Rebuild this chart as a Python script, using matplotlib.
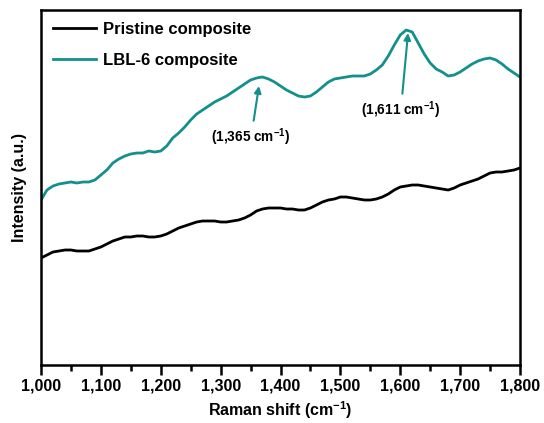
import numpy as np
import matplotlib.pyplot as plt
from matplotlib.ticker import MultipleLocator, FuncFormatter

# Raman shift (cm-1), 10 cm-1 steps
shift = np.arange(1000, 1801, 10)

# (arbitrary units)
pristine = [107, 110, 113, 114, 115, 115, 114, 114, 114, 116,
            118, 121, 124, 126, 128, 128, 129, 129, 128, 128,
            129, 131, 134, 137, 139, 141, 143, 144, 144, 144,
            143, 143, 144, 145, 147, 150, 154, 156, 157, 157,
            157, 156, 156, 155, 155, 157, 160, 163, 165, 166,
            168, 168, 167, 166, 165, 165, 166, 168, 171, 175,
            178, 179, 180, 180, 179, 178, 177, 176, 175, 177,
            180, 182, 184, 186, 189, 192, 193, 193, 194, 195,
            197]

lbl6 = [165, 175, 179, 181, 182, 183, 182, 183, 183, 185,
        190, 195, 202, 206, 209, 211, 212, 212, 214, 213,
        214, 219, 227, 232, 238, 245, 251, 255, 259, 263,
        266, 269, 273, 277, 281, 285, 287, 288, 286, 283,
        279, 275, 272, 269, 268, 269, 273, 278, 283, 286,
        287, 288, 289, 289, 289, 291, 295, 300, 309, 320,
        330, 335, 333, 322, 311, 302, 296, 293, 289, 290,
        293, 297, 301, 304, 306, 307, 305, 301, 296, 292,
        288]

teal = '#13908b'
plt.rcParams['mathtext.fontset'] = 'custom'
plt.rcParams['mathtext.rm'] = 'Liberation Sans:bold'
plt.rcParams['mathtext.bf'] = 'Liberation Sans:bold'
plt.rcParams['mathtext.it'] = 'Liberation Sans:bold'
bold = dict(family='Liberation Sans', weight='bold')

fig = plt.figure(figsize=(5.44, 4.23), dpi=100)
ax = fig.add_axes([41/544, 1 - 365/423, 479/544, 355/423])

ax.plot(shift, pristine, color='black', lw=2, label='Pristine composite')
ax.plot(shift, lbl6, color=teal, lw=2, label='LBL-6 composite')

# peak annotations
arrow = dict(arrowstyle='-|>', color=teal, lw=1.5, mutation_scale=10, shrinkB=0, shrinkA=2)
ax.annotate('(1,365 cm$^{-1}$)', xy=(1364, 279), xytext=(1351, 228),
            ha='center', va='center', fontsize=9.8, arrowprops=arrow, **bold)
ax.annotate('(1,611 cm$^{-1}$)', xy=(1613, 332), xytext=(1601, 255),
            ha='center', va='center', fontsize=9.8, arrowprops=arrow, **bold)

ax.set_xlim(1000, 1800)
ax.set_ylim(0, 355)
ax.xaxis.set_major_locator(MultipleLocator(100))
ax.xaxis.set_minor_locator(MultipleLocator(50))
ax.xaxis.set_major_formatter(FuncFormatter(lambda v, p: f'{int(v):,}'))
ax.set_yticks([])
ax.tick_params(axis='x', which='major', length=7, width=1.8, direction='out', pad=3)
ax.tick_params(axis='x', which='minor', length=4, width=1.8, direction='out')
for lab in ax.get_xticklabels():
    lab.set_fontproperties('Liberation Sans')
    lab.set_fontweight('bold')
    lab.set_fontsize(11.5)
for sp in ax.spines.values():
    sp.set_linewidth(1.8)

ax.set_xlabel('Raman shift (cm$^{-1}$)', fontsize=11.5, labelpad=4, **bold)
ax.set_ylabel('Intensity (a.u.)', fontsize=11.5, labelpad=10, **bold)

ax.legend(loc='upper left', frameon=False, prop=dict(family='Liberation Sans', weight='bold', size=12),
          handlelength=2.6, labelspacing=1.0, borderaxespad=0.3, handletextpad=0.4)

fig.savefig('out.png', dpi=100)
